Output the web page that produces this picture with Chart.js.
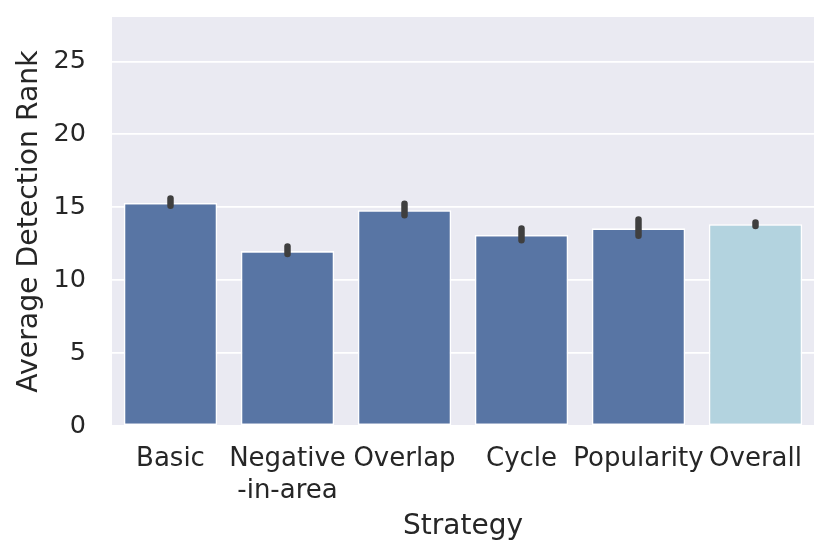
<!DOCTYPE html>
<html>
<head>
<meta charset="utf-8">
<script src="https://cdn.jsdelivr.net/npm/chart.js@4"></script>
<style>
  html, body { margin: 0; padding: 0; background: #ffffff; }
  #wrap { width: 831px; height: 558px; }
</style>
</head>
<body>
<div id="wrap"><canvas id="c" width="831" height="558"></canvas></div>
<script>
const categories = ["Basic", ["Negative", "-in-area"], "Overlap", "Cycle", "Popularity", "Overall"];
const meanRank = [15.3, 12.0, 14.8, 13.1, 13.56, 13.84];
const ciLow = [15.1, 11.79, 14.45, 12.74, 13.04, 13.72];
const ciHigh = [15.6, 12.31, 15.25, 13.54, 14.16, 13.95];
const barColors = ["#5875a4", "#5875a4", "#5875a4", "#5875a4", "#5875a4", "#b3d3df"];
const yTicks = [0, 5, 10, 15, 20, 25];

const FONT = "'DejaVu Sans', sans-serif";
const TEXT = "#262626";

const plotBg = {
  id: 'plotBg',
  beforeDraw(chart) {
    const { ctx, chartArea: a } = chart;
    ctx.save();
    ctx.fillStyle = '#eaeaf2';
    ctx.fillRect(a.left, a.top, a.right - a.left, a.bottom - a.top);
    ctx.restore();
  }
};

const errorBars = {
  id: 'errorBars',
  afterDatasetsDraw(chart) {
    const { ctx, scales: { x, y } } = chart;
    ctx.save();
    ctx.strokeStyle = '#3f3f3f';
    ctx.lineWidth = 6.5;
    ctx.lineCap = 'round';
    categories.forEach((c, i) => {
      const px = x.getPixelForValue(i);
      ctx.beginPath();
      ctx.moveTo(px, y.getPixelForValue(ciLow[i]));
      ctx.lineTo(px, y.getPixelForValue(ciHigh[i]));
      ctx.stroke();
    });
    ctx.restore();
  }
};

new Chart(document.getElementById('c'), {
  type: 'bar',
  data: {
    labels: categories,
    datasets: [{
      data: meanRank,
      backgroundColor: barColors,
      borderColor: '#ffffff',
      borderWidth: 1.6,
      borderSkipped: false,
      categoryPercentage: 0.8,
      barPercentage: 1.0
    }]
  },
  options: {
    responsive: false,
    animation: false,
    devicePixelRatio: 1,
    layout: { padding: { top: 17, right: 17, left: 0, bottom: 0 } },
    plugins: { legend: { display: false }, tooltip: { enabled: false } },
    scales: {
      x: {
        grid: { display: false, drawTicks: false },
        border: { display: false },
        ticks: { color: TEXT, font: { family: FONT, size: 26 }, padding: 18, maxRotation: 0, autoSkip: false },
        title: { display: true, text: 'Strategy', color: TEXT, font: { family: FONT, size: 28 }, padding: { top: 0, bottom: 14 } },
        afterFit(s) { s.height = 132; s.paddingLeft = 0; s.paddingRight = 0; }
      },
      y: {
        min: 0,
        max: 28.05,
        afterBuildTicks(s) { s.ticks = yTicks.map(v => ({ value: v })); },
        grid: { color: '#ffffff', lineWidth: 1.8, drawTicks: false },
        border: { display: false },
        ticks: { color: TEXT, font: { family: FONT, size: 25.5 }, padding: 26 },
        title: { display: true, text: 'Average Detection Rank', color: TEXT, font: { family: FONT, size: 28.3 }, padding: { top: 13, bottom: 0 } },
        afterFit(s) { s.width = 112; s.paddingTop = 0; s.paddingBottom = 0; }
      }
    }
  },
  plugins: [plotBg, errorBars]
});
</script>
</body>
</html>
